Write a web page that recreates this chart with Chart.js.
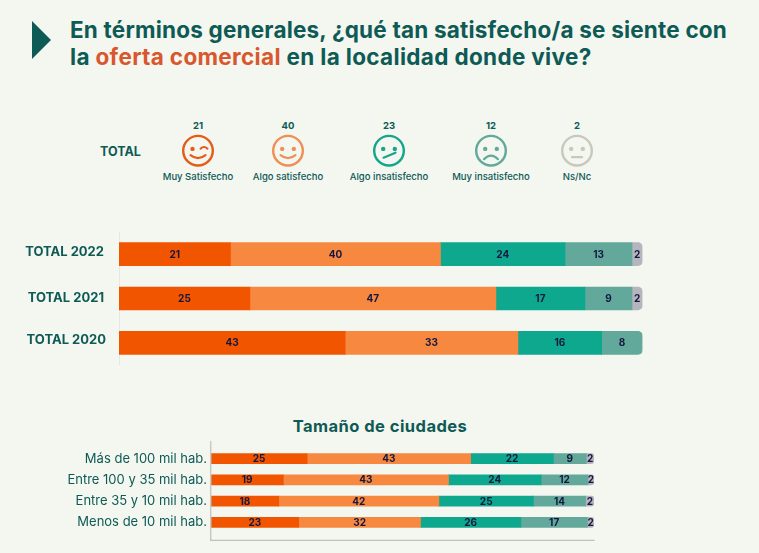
<!DOCTYPE html>
<html lang="es">
<head>
<meta charset="utf-8">
<script src="https://cdn.jsdelivr.net/npm/chart.js@4/dist/chart.umd.js"></script>
<style>
html,body{margin:0;padding:0;background:#f4f6f0;width:759px;height:553px;overflow:hidden;font-family:Inter,sans-serif;color:#0e5a55}
.a{position:absolute;white-space:nowrap}
#tri{left:32px;top:21px;width:19px;height:38px;background:#0e5a55;clip-path:polygon(0 0,100% 50%,0 100%)}
.t{left:70px;font-weight:700;font-size:22.5px;line-height:26px;letter-spacing:.2px}
.t b{color:#d8572c;font-weight:700}
#sub{left:280px;top:416px;font-weight:700;font-size:16.5px;line-height:20px;width:200px;text-align:center;letter-spacing:.45px}
#total{left:100px;top:143.5px;font-weight:700;font-size:12.5px;line-height:16px}
.n{width:60px;text-align:center;font-weight:700;font-size:9.5px;line-height:12px;top:120px}
.l{width:110px;text-align:center;font-weight:500;font-size:9.5px;line-height:12px;top:171px}
svg.a{left:0;top:0}
canvas{position:absolute}
</style>
</head>
<body>
<div class="a" id="tri"></div>
<div class="a t" style="top:17px">En términos generales, ¿qué tan satisfecho/a se siente con</div>
<div class="a t" style="top:44px;letter-spacing:.33px">la <b>oferta comercial</b> en la localidad donde vive?</div>
<div class="a" id="total">TOTAL</div>
<div id="faces"></div>
<div class="a" id="sub">Tamaño de ciudades</div>
<div style="position:absolute;left:0;top:232px;width:759px;height:133px"><canvas id="c1"></canvas></div>
<div style="position:absolute;left:0;top:448px;width:759px;height:85px"><canvas id="c2"></canvas></div>
<svg class="a" style="pointer-events:none" width="759" height="553">
  <path d="M210.7 441V540.3" stroke="#c8c9c5" stroke-width="1.5" fill="none"/>
  <path d="M210 540.3H594.6" stroke="#b4b5b1" stroke-width="1" fill="none"/>
</svg>
<script>
const seriesNames = ["Muy Satisfecho","Algo satisfecho","Algo insatisfecho","Muy insatisfecho","Ns/Nc"];
const seriesColors = ["#f25500","#f68840","#0da88e","#62a99b","#b6b5bd"];
const faceColors = ["#e65c17","#ef8f55","#14a58d","#62a99b","#c9c8be"];
const totalValues = [21,40,23,12,2];

const yearLabels = ["TOTAL 2022","TOTAL 2021","TOTAL 2020"];
const yearMuySat = [21.3,25,43.2];
const yearAlgoSat = [40.1,47,33];
const yearAlgoIns = [23.8,17,16];
const yearMuyIns = [12.8,9,7.8];
const yearNsNc = [2,2,null];

const cityLabels = ["Más de 100 mil hab.","Entre 100 y 35 mil hab.","Entre 35 y 10 mil hab.","Menos de 10 mil hab."];
const cityMuySat = [25.1,18.9,17.7,22.9];
const cityAlgoSat = [42.7,43.1,41.8,31.8];
const cityAlgoIns = [21.6,24.2,24.7,26.2];
const cityMuyIns = [8.6,12.2,13.6,17.4];
const cityNsNc = [2,1.6,2.2,1.7];

const faceCentres = [198,288,389,491,577];
const dark = "#0e5a55";
const mouths = [
  '<path d="M-7.5 4.5Q0 10.5 7.5 4.5" />',
  '<path d="M-7.5 4.5Q0 10.5 7.5 4.5" />',
  '<path d="M-5.5 7L6.5 2" />',
  '<path d="M-7 8.5Q0 1.5 7 8.5" />',
  '<path d="M-5 6.5H5" />'
];
let svg = '<svg class="a" width="759" height="200" fill="none" stroke-linecap="round">';
let txt = '';
seriesNames.forEach((name,i)=>{
  const cx = faceCentres[i], c = faceColors[i];
  const eyes = i===0
    ? `<circle cx="-5.5" cy="-1.8" r="2.2" fill="${c}"/><path d="M2.5 -2Q6 -5.5 9.5 -2" stroke="${c}" stroke-width="2"/>`
    : `<circle cx="-5.8" cy="-1.8" r="2.2" fill="${c}"/><circle cx="5.8" cy="-1.8" r="2.2" fill="${c}"/>`;
  svg += `<g transform="translate(${cx} 150.7)"><circle r="14.8" stroke="${c}" stroke-width="2.4"/>${eyes}<g stroke="${c}" stroke-width="2.2">${mouths[i]}</g></g>`;
  txt += `<div class="a n" style="left:${cx-30}px">${totalValues[i]}</div><div class="a l" style="left:${cx-55}px">${name}</div>`;
});
document.getElementById('faces').innerHTML = svg + '</svg>' + txt;

const barLabels = {
  id:'barLabels',
  afterDatasetsDraw(chart,args,opts){
    const {ctx} = chart;
    ctx.save();
    ctx.font = `700 ${opts.size}px Inter, sans-serif`;
    ctx.fillStyle = '#15173f';
    ctx.textAlign = 'center';
    ctx.textBaseline = 'middle';
    chart.data.datasets.forEach((ds,d)=>{
      chart.getDatasetMeta(d).data.forEach((bar,i)=>{
        if(ds.data[i]==null) return;
        ctx.fillText(String(Math.round(ds.data[i])), bar.x-(bar.width/2), bar.y+0.5);
      });
    });
    ctx.restore();
  }
};

const labelNudge = {
  id:'labelNudge',
  beforeDraw(chart,args,opts){
    if(chart.$nudged) return;
    chart.$nudged = true;
    chart.scales.y.getLabelItems(chart.chartArea).forEach((it,i)=>{
      it.options.translation = [it.options.translation[0]+opts.dx[i], it.options.translation[1]+opts.dy[i]];
    });
  }
};

function makeDatasets(arrays,thick){
  return arrays.map((data,i)=>({
    label: seriesNames[i], data, backgroundColor: seriesColors[i],
    borderWidth:0, borderSkipped:false, barThickness:thick,
    borderRadius:(c)=>{
      const r = c.chart.options.plugins.barLabels.radius;
      const last = arrays.reduce((m,a,k)=> a[c.dataIndex]!=null ? k : m, 0);
      return i===last ? {topLeft:0,bottomLeft:0,topRight:r,bottomRight:r} : 0;
    }
  }));
}
function makeChart(id,labels,arrays,o){
  return new Chart(document.getElementById(id),{
    type:'bar',
    data:{labels,datasets:makeDatasets(arrays,o.thick)},
    plugins:[barLabels,labelNudge],
    options:{
      indexAxis:'y',responsive:true,maintainAspectRatio:false,animation:false,
      layout:{padding:{left:0,right:o.right,top:0,bottom:0}},
      plugins:{legend:{display:false},tooltip:{enabled:false},
        barLabels:{size:o.size,radius:o.radius},
        labelNudge:{dx:o.dx,dy:o.dy}},
      scales:{
        x:{stacked:true,min:0,max:100,display:false},
        y:{stacked:true,
           afterFit(s){s.width=o.left;s.paddingTop=0;s.paddingBottom=0;},
           grid:{display:false,drawTicks:false},
           border:{display:o.border,color:'#e6e7e1',width:1},
           ticks:{color:dark,padding:o.pad,font:{family:'Inter, sans-serif',size:o.tick,weight:o.weight}}}
      }
    }
  });
}
makeChart('c1',yearLabels,[yearMuySat,yearAlgoSat,yearAlgoIns,yearMuyIns,yearNsNc],
  {thick:23,right:116.5,left:119,size:10,radius:5,pad:15,tick:13,weight:'700',dx:[0,0,2],dy:[-2,-0.5,-3],border:true});
makeChart('c2',cityLabels,[cityMuySat,cityAlgoSat,cityAlgoIns,cityMuyIns,cityNsNc],
  {thick:10,right:165,left:211,size:10,radius:3,pad:4,tick:13,weight:'400',dx:[0,0,0,0],dy:[0,0,0,0],border:false});
</script>
</body>
</html>
